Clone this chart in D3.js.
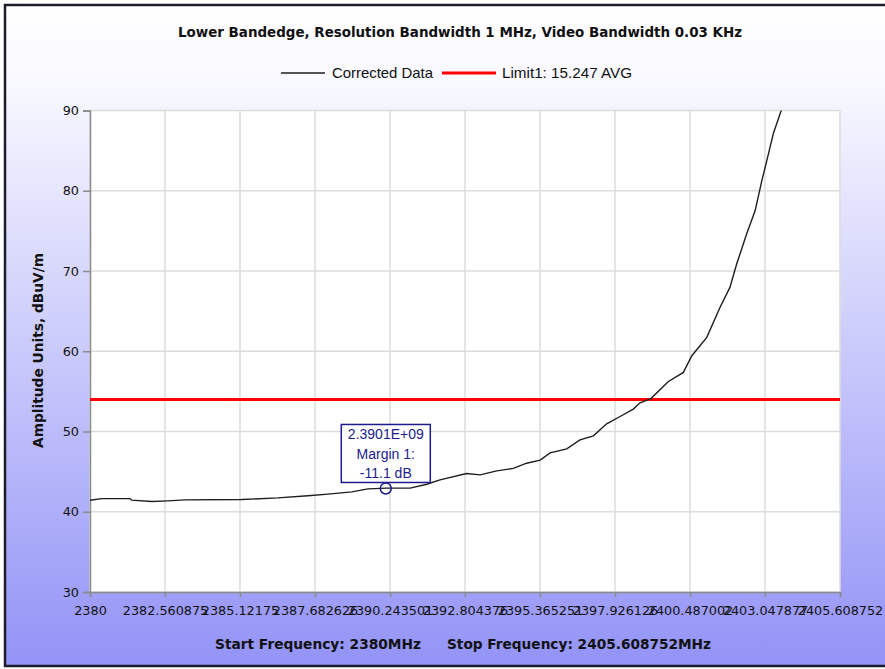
<!DOCTYPE html>
<html>
<head>
<meta charset="utf-8">
<script src="https://cdn.jsdelivr.net/npm/d3@7/dist/d3.min.js"></script>
<style>
  html, body { margin: 0; padding: 0; background: #ffffff; }
  svg { display: block; }
</style>
</head>
<body>
<svg id="chart" width="885" height="669"></svg>
<script>
// Measured trace: frequency (MHz) and corrected amplitude (dBuV/m)
const freqMHz = [
  2380.00, 2380.40, 2381.37, 2381.42, 2382.11, 2382.66, 2383.24, 2385.18,
  2386.42, 2387.44, 2388.13, 2388.94, 2389.49, 2390.13, 2390.93, 2391.50,
  2391.95, 2392.86, 2393.32, 2393.89, 2394.45, 2394.91, 2395.37, 2395.71,
  2396.28, 2396.73, 2397.19, 2397.64, 2398.10, 2398.55, 2398.78, 2399.15,
  2399.75, 2400.26, 2400.55, 2401.06, 2401.51, 2401.85, 2402.08, 2402.42,
  2402.71, 2402.94, 2403.11, 2403.33, 2403.62, 2403.70
];
const amplitude = [
  41.44, 41.64, 41.64, 41.44, 41.27, 41.35, 41.48, 41.52,
  41.73, 42.00, 42.20, 42.47, 42.85, 42.94, 42.94, 43.43,
  43.97, 44.76, 44.60, 45.10, 45.40, 46.05, 46.43, 47.34,
  47.84, 48.96, 49.46, 50.96, 51.87, 52.79, 53.58, 54.10,
  56.23, 57.36, 59.44, 61.73, 65.46, 67.96, 70.87, 74.60,
  77.50, 81.27, 83.76, 87.10, 90.20, 91.20
];

// Limit line and marker
const limitValue = 54;
const markerFreqMHz = 2390.1;
const markerMarginDb = -11.1;

// Axis ranges and ticks
const startFreqMHz = 2380;
const stopFreqMHz = 2405.608752;
const xTicks = [2380, 2382.560875, 2385.12175, 2387.682626, 2390.243501,
  2392.804376, 2395.365251, 2397.926126, 2400.487002, 2403.047877, 2405.608752];
const yTicks = [30, 40, 50, 60, 70, 80, 90];

// Texts
const titleText = "Lower Bandedge, Resolution Bandwidth 1 MHz, Video Bandwidth 0.03 KHz";
const seriesNames = ["Corrected Data", "Limit1: 15.247 AVG"];
const yAxisTitle = "Amplitude Units, dBuV/m";

const svg = d3.select("#chart");
const W = 885, H = 669;
const plot = { left: 90, right: 840, top: 110.5, bottom: 592 };

// Background panel with vertical gradient
const defs = svg.append("defs");
const grad = defs.append("linearGradient")
  .attr("id", "bg").attr("x1", 0).attr("y1", 0).attr("x2", 0).attr("y2", 1);
grad.append("stop").attr("offset", "0%").attr("stop-color", "#ffffff");
grad.append("stop").attr("offset", "12%").attr("stop-color", "#f8f8ff");
grad.append("stop").attr("offset", "100%").attr("stop-color", "#9393f7");

defs.append("clipPath").attr("id", "plotClip")
  .append("rect")
  .attr("x", plot.left).attr("y", plot.top)
  .attr("width", plot.right - plot.left).attr("height", plot.bottom - plot.top);

svg.append("rect")
  .attr("x", 5).attr("y", 5).attr("width", W + 5).attr("height", H - 8)
  .attr("fill", "url(#bg)")
  .attr("stroke", "#1c1c2a").attr("stroke-width", 2.5);

// Scales
const x = d3.scaleLinear().domain([startFreqMHz, stopFreqMHz]).range([plot.left, plot.right]);
const y = d3.scaleLinear().domain([30, 90]).range([plot.bottom, plot.top]);

// Plot area
svg.append("rect")
  .attr("x", plot.left).attr("y", plot.top)
  .attr("width", plot.right - plot.left).attr("height", plot.bottom - plot.top)
  .attr("fill", "#ffffff");

// Grid
const grid = svg.append("g").attr("stroke", "#dcdcdc").attr("stroke-width", 1.5);
grid.selectAll("line.v").data(xTicks).join("line").attr("class", "v")
  .attr("x1", d => x(d)).attr("x2", d => x(d))
  .attr("y1", plot.top).attr("y2", plot.bottom);
grid.selectAll("line.h").data(yTicks).join("line").attr("class", "h")
  .attr("x1", plot.left).attr("x2", plot.right)
  .attr("y1", d => y(d)).attr("y2", d => y(d));

// Axes
const fmtTick = d => String(+d.toFixed(6));
const xAxis = svg.append("g")
  .attr("transform", `translate(0,${plot.bottom})`)
  .call(d3.axisBottom(x).tickValues(xTicks).tickFormat(fmtTick).tickSize(5).tickPadding(9));
const yAxis = svg.append("g")
  .attr("transform", `translate(${plot.left},0)`)
  .call(d3.axisLeft(y).tickValues(yTicks).tickFormat(d3.format("d")).tickSize(7).tickPadding(4));

[xAxis, yAxis].forEach(g => {
  g.select(".domain").attr("stroke", "#8a8a8a").attr("stroke-width", 1.5);
  g.selectAll(".tick line").attr("stroke", "#8a8a8a").attr("stroke-width", 1.5);
  g.selectAll(".tick text")
    .attr("fill", "#111111")
    .style("font-family", "'DejaVu Sans', Verdana, sans-serif")
    .style("font-size", "12.8px");
});

// Limit line
svg.append("line")
  .attr("x1", plot.left).attr("x2", plot.right)
  .attr("y1", y(limitValue)).attr("y2", y(limitValue))
  .attr("stroke", "#ff0000").attr("stroke-width", 3);

// Corrected data trace
const trace = freqMHz.map((f, i) => [f, amplitude[i]]);
svg.append("path")
  .datum(trace)
  .attr("clip-path", "url(#plotClip)")
  .attr("fill", "none")
  .attr("stroke", "#1e1e1e")
  .attr("stroke-width", 1.4)
  .attr("d", d3.line().x(d => x(d[0])).y(d => y(d[1])));

// Margin marker
const markerValue = limitValue + markerMarginDb;
const mx = x(markerFreqMHz), my = y(markerValue);
const navy = "#1c1c8e";
svg.append("circle")
  .attr("cx", mx).attr("cy", my).attr("r", 5.5)
  .attr("fill", "none").attr("stroke", navy).attr("stroke-width", 1.5);

const expLabel = (() => {
  const [m, e] = (markerFreqMHz * 1e6).toExponential(4).split("e");
  const n = Math.abs(+e);
  return `${m}E${+e < 0 ? "-" : "+"}${n < 10 ? "0" + n : n}`;
})();
const markerLines = [expLabel, "Margin 1:", `${markerMarginDb.toFixed(1)} dB`];
const boxW = 89, boxH = 58;
const boxX = mx - boxW / 2, boxY = my - 6 - boxH;
svg.append("rect")
  .attr("x", boxX).attr("y", boxY).attr("width", boxW).attr("height", boxH)
  .attr("fill", "#ffffff").attr("stroke", navy).attr("stroke-width", 1.5);
svg.append("g").selectAll("text").data(markerLines).join("text")
  .attr("x", mx).attr("y", (d, i) => boxY + 10 + i * 19.3)
  .attr("text-anchor", "middle")
  .attr("dominant-baseline", "central")
  .attr("fill", navy)
  .style("font-family", "'Liberation Sans', Arial, sans-serif")
  .style("font-size", "14px")
  .text(d => d);

// Title
svg.append("text")
  .attr("x", 460).attr("y", 32)
  .attr("text-anchor", "middle").attr("dominant-baseline", "central")
  .attr("textLength", 564).attr("lengthAdjust", "spacingAndGlyphs")
  .style("font-family", "'DejaVu Sans', Verdana, sans-serif")
  .style("font-weight", "bold").style("font-size", "13.5px")
  .attr("fill", "#111111")
  .text(titleText);

// Legend
const legend = svg.append("g");
const legendItems = [
  { name: seriesNames[0], color: "#1e1e1e", width: 1.4, x0: 281, x1: 325, tx: 332, tl: 101 },
  { name: seriesNames[1], color: "#ff0000", width: 3, x0: 442, x1: 496, tx: 502, tl: 130 }
];
legendItems.forEach(it => {
  legend.append("line")
    .attr("x1", it.x0).attr("x2", it.x1).attr("y1", 73).attr("y2", 73)
    .attr("stroke", it.color).attr("stroke-width", it.width);
  legend.append("text")
    .attr("x", it.tx).attr("y", 73)
    .attr("dominant-baseline", "central")
    .attr("textLength", it.tl).attr("lengthAdjust", "spacingAndGlyphs")
    .style("font-family", "'Liberation Sans', Arial, sans-serif")
    .style("font-size", "14.5px")
    .attr("fill", "#111111")
    .text(it.name);
});

// Y axis title
svg.append("text")
  .attr("transform", `translate(38,350.5) rotate(-90)`)
  .attr("text-anchor", "middle").attr("dominant-baseline", "central")
  .attr("textLength", 195).attr("lengthAdjust", "spacingAndGlyphs")
  .style("font-family", "'DejaVu Sans', Verdana, sans-serif")
  .style("font-weight", "bold").style("font-size", "13.5px")
  .attr("fill", "#111111")
  .text(yAxisTitle);

// Frequency span footer
const footer = [
  { text: `Start Frequency: ${startFreqMHz}MHz`, x: 215, tl: 206 },
  { text: `Stop Frequency: ${stopFreqMHz}MHz`, x: 447, tl: 264 }
];
footer.forEach(f => {
  svg.append("text")
    .attr("x", f.x).attr("y", 644)
    .attr("dominant-baseline", "central")
    .attr("textLength", f.tl).attr("lengthAdjust", "spacingAndGlyphs")
    .style("font-family", "'DejaVu Sans', Verdana, sans-serif")
    .style("font-weight", "bold").style("font-size", "14px")
    .attr("fill", "#111111")
    .text(f.text);
});
</script>
</body>
</html>
